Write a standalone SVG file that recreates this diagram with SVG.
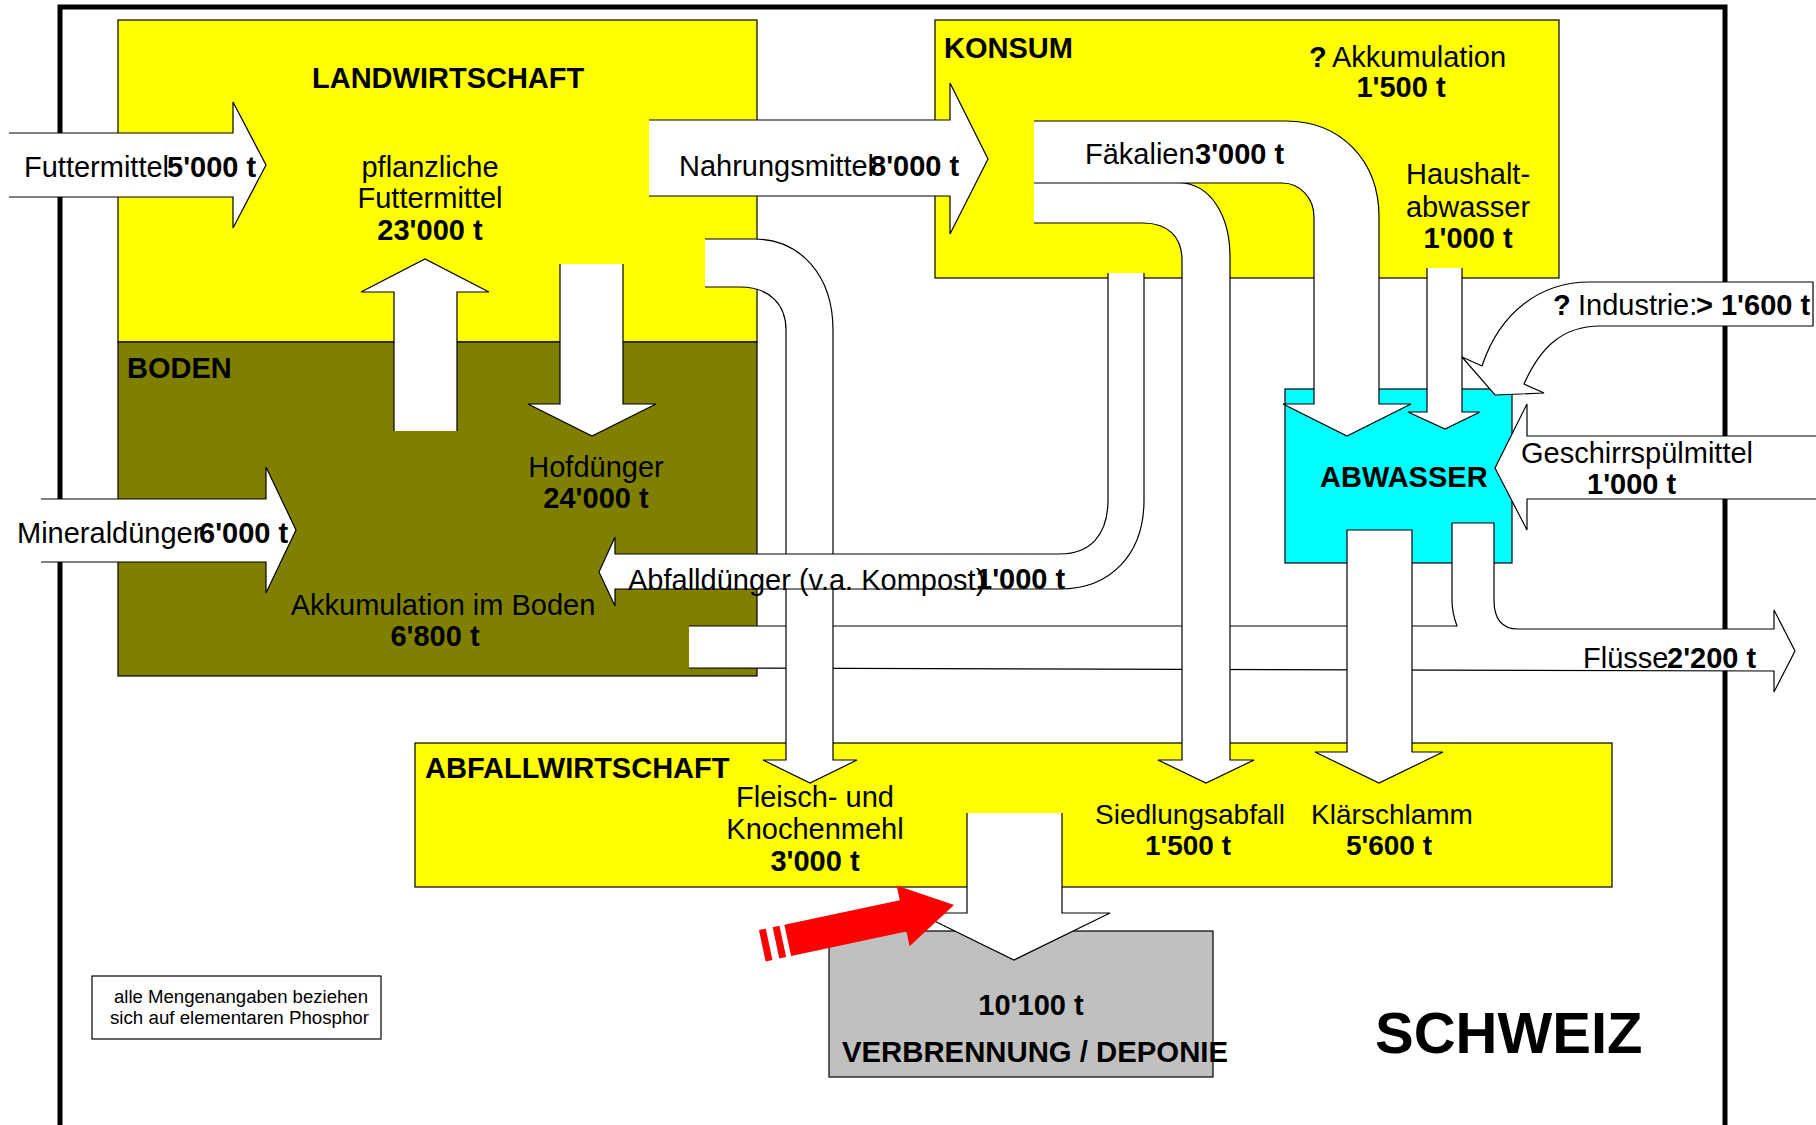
<svg xmlns="http://www.w3.org/2000/svg" width="1816" height="1125" viewBox="0 0 1816 1125">
<style>
text{font-family:"Liberation Sans",Arial,sans-serif;font-size:29px;fill:#000}
.b{font-weight:bold}
.m{text-anchor:middle}
.s{font-size:28px}
.box{stroke:#000;stroke-width:1.2}
.arr{fill:#fff;stroke:#000;stroke-width:1.2;stroke-linejoin:miter}
</style>
<rect width="1816" height="1125" fill="#fff"/>
<path d="M60,1125 V7 H1725 V1125" fill="none" stroke="#000" stroke-width="5"/>

<g id="landwirtschaft"><rect class="box" x="118" y="20" width="639" height="322" fill="#FFFF00"/></g>
<g id="boden"><rect class="box" x="118" y="342" width="639" height="334" fill="#808000"/></g>
<g id="konsum"><rect class="box" x="935" y="20" width="624" height="258" fill="#FFFF00"/></g>
<g id="abwasser"><rect class="box" x="1285" y="389" width="227" height="174" fill="#00FFFF"/></g>
<g id="abfallwirtschaft"><rect class="box" x="415" y="743" width="1197" height="144" fill="#FFFF00"/></g>
<g id="verbrennung"><rect class="box" x="829" y="931" width="384" height="146" fill="#C0C0C0"/></g>
<g id="note"><rect class="box" x="92" y="976" width="289" height="63" fill="#fff"/></g>

<g id="connectors">
<path class="arr" d="M689,626 H1457 C1454,618 1452,612 1452,600 V523 H1494 V600 C1494,620 1502,629 1518,629 H1774 V610 L1795,651 L1774,692 V671 L689,668"/>
<path class="arr" d="M705,239 H754 C800,239 833,275 833,330 V760 H857 L810,783 L763,760 H786 V330 C786,305 770,287 740,287 H705"/>
<path class="arr" d="M1108,273 V500 C1108,535 1090,554 1060,554 H615 V537 L599,572 L615,606 V589 H1060 C1110,589 1144,555 1144,500 V273"/>
<path class="arr" d="M1034,121 H1286 C1340,121 1379,160 1379,217 V404 H1411 L1347,436 L1283,404 H1314 V217 C1314,198 1300,183 1282,183 H1179 C1210,183 1230,215 1230,257 V760 H1254 L1206,783 L1158,760 H1182 V260 C1182,237 1168,223 1143,223 H1034"/>
<path d="M1034,183 H1179" fill="none" stroke="#000" stroke-width="1.2"/>
<path class="arr" d="M1347,530 V752 H1315 L1379,783 L1443,752 H1412 V530 Z"/>
<path class="arr" d="M9,133 H233 V102 L266,165 L233,228 V197 H9"/>
<path class="arr" d="M41,499 H266 V467 L296,530 L266,593 V562 H41"/>
<path class="arr" d="M394,431 V292 H361 L425,259 L489,292 H457 V431"/>
<path class="arr" d="M560,264 V404 H528 L592,436 L656,404 H623 V264"/>
<path class="arr" d="M649,120 H950 V83 L988,159 L950,234 V196 H649"/>
<path class="arr" d="M1427,268 V412 H1408 L1445,429 L1480,412 H1462 V268"/>
<path class="arr" d="M1813,282 H1590 C1540,282 1500,312 1482,366 L1462,357 L1495,395 L1544,393 L1524,384 C1540,348 1562,326 1600,326 H1813 Z"/>
<path class="arr" d="M1816,436 H1527 V404 L1495,468 L1527,530 V499 H1816"/>
<path class="arr" d="M967,813 V913 H918 L1014,960 L1110,913 H1062 V813"/>
<g transform="translate(954,905) rotate(-12)" fill="#FF0000">
<polygon points="0,0 -52,-31 -52,-16 -170,-16 -170,16 -52,16 -52,31"/>
<rect x="-182" y="-16" width="7" height="32"/>
<rect x="-196" y="-16" width="7" height="32"/>
</g>
</g>

<g id="labels">
<text x="24" y="177">Futtermittel</text>
<text class="b" x="167" y="177">5'000 t</text>
<text class="b" x="312" y="88">LANDWIRTSCHAFT</text>
<text class="m" x="430" y="177">pflanzliche</text>
<text class="m" x="430" y="208">Futtermittel</text>
<text class="m b" x="430" y="240">23'000 t</text>
<text class="b" x="127" y="378">BODEN</text>
<text class="m" x="596" y="477">Hofdünger</text>
<text class="m b" x="596" y="508">24'000 t</text>
<text x="17" y="543">Mineraldünger</text>
<text class="b" x="199" y="543">6'000 t</text>
<text class="m" x="443" y="615">Akkumulation im Boden</text>
<text class="m b" x="435" y="646">6'800 t</text>
<text x="628" y="590">Abfalldünger (v.a. Kompost)</text>
<text class="b" x="976" y="589">1'000 t</text>
<text x="679" y="176">Nahrungsmittel</text>
<text class="b" x="870" y="176">8'000 t</text>
<text class="b" x="944" y="58">KONSUM</text>
<text class="b" x="1309" y="67">?</text>
<text x="1332" y="67">Akkumulation</text>
<text class="m b" x="1401" y="97">1'500 t</text>
<text x="1085" y="164">Fäkalien</text>
<text class="b" x="1195" y="164">3'000 t</text>
<text class="m" x="1468" y="184">Haushalt-</text>
<text class="m" x="1468" y="217">abwasser</text>
<text class="m b" x="1468" y="248">1'000 t</text>
<text class="b" x="1553" y="315">?</text>
<text x="1578" y="315">Industrie:</text>
<text class="b" x="1696" y="315">&gt; 1'600 t</text>
<text x="1521" y="463">Geschirrspülmittel</text>
<text class="b" x="1587" y="494">1'000 t</text>
<text class="b" x="1320" y="487">ABWASSER</text>
<text x="1583" y="668">Flüsse</text>
<text class="b" x="1667" y="668">2'200 t</text>
<text class="b" x="425" y="778">ABFALLWIRTSCHAFT</text>
<text class="m" x="815" y="807">Fleisch- und</text>
<text class="m" x="815" y="839">Knochenmehl</text>
<text class="m b" x="815" y="871">3'000 t</text>
<text class="m s" x="1190" y="824">Siedlungsabfall</text>
<text class="m b s" x="1188" y="855">1'500 t</text>
<text class="m s" x="1392" y="824">Klärschlamm</text>
<text class="m b s" x="1389" y="855">5'600 t</text>
<text class="m b" x="1031" y="1015">10'100 t</text>
<text class="b" x="842" y="1062" textLength="386" lengthAdjust="spacingAndGlyphs">VERBRENNUNG / DEPONIE</text>
<text x="114" y="1003" style="font-size:18px" textLength="254" lengthAdjust="spacingAndGlyphs">alle Mengenangaben beziehen</text>
<text x="110" y="1024" style="font-size:18px" textLength="259" lengthAdjust="spacingAndGlyphs">sich auf elementaren Phosphor</text>
<text class="b" x="1375" y="1053" style="font-size:58px">SCHWEIZ</text>
</g>
</svg>
